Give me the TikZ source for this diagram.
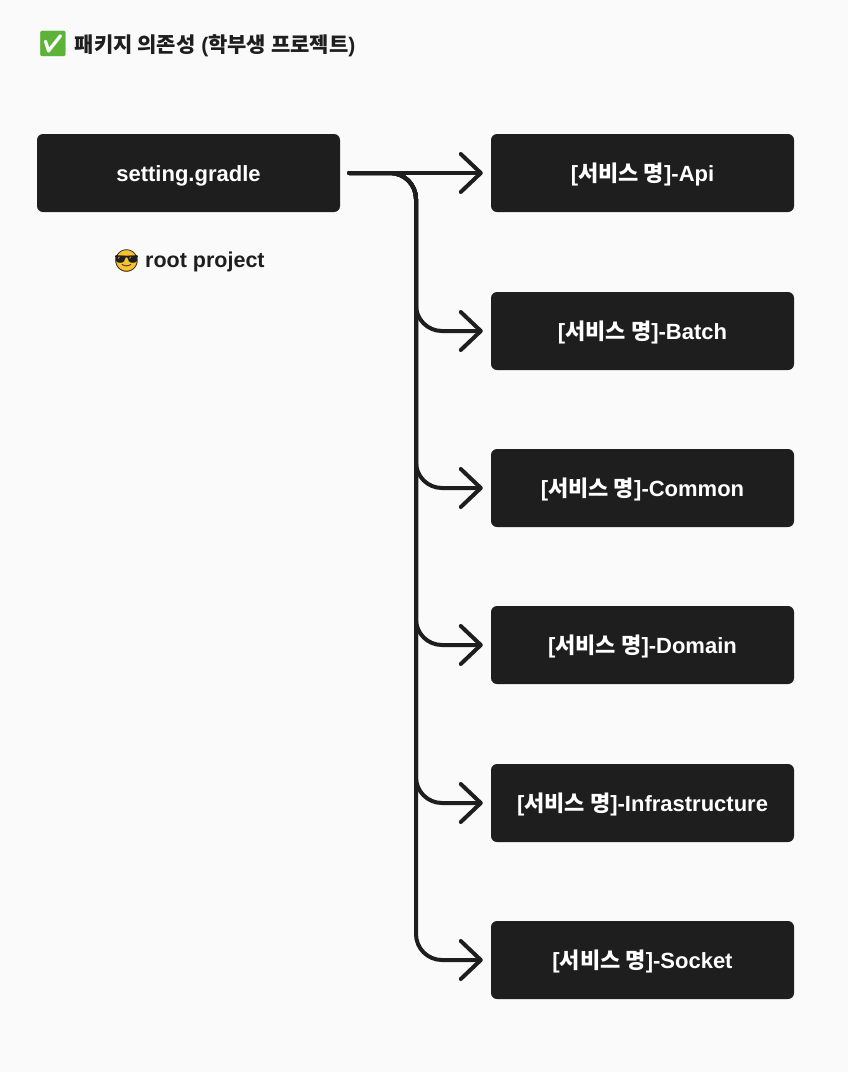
\documentclass[tikz,border=0pt]{standalone}
\usepackage{fontspec}
\setmainfont{Liberation Sans}
\newfontfamily\kr{Noto Sans CJK KR}
\newfontfamily\emoji{Noto Emoji}
\usetikzlibrary{arrows.meta}
\definecolor{ink}{HTML}{1E1E1E}
\definecolor{paper}{HTML}{FAFAFA}
\definecolor{okgreen}{HTML}{5DB337}
\definecolor{smiley}{HTML}{F7C130}
\newcommand\svc[1]{[{\kr 서비스 명}]-#1}
\begin{document}
\begin{tikzpicture}[x=1pt,y=-1pt,
    module/.style={fill=ink,rounded corners=6pt,minimum width=303pt,minimum height=78pt,text height=20pt,text depth=4pt,text=white,font=\fontsize{22}{24}\selectfont\bfseries},
    conn/.style={draw=ink,line width=4pt,line cap=round,rounded corners=26pt,shorten <=9pt,shorten >=8pt,-{Straight Barb[length=20pt,width=38pt,line cap=round,line join=round]}},
    headline/.style={text=ink,font=\fontsize{21.5}{24}\selectfont\bfseries,anchor=west,inner sep=0pt},
    face/.style={inner sep=0pt,text=ink,font=\fontsize{22}{22}\selectfont}]
				\fill[paper] (0,0) rectangle (848,1072);
				\node[headline,font=\fontsize{21}{24}\selectfont\bfseries] (title) at (37,44) {{\emoji\fontsize{25}{25}\selectfont\color{okgreen}✅} {\kr 패키지 의존성} ({\kr 학부생 프로젝트})};
				\node[module] (gradle) at (188.5,173) {setting.gradle};
				\fill[smiley] (126.5,261) circle (11pt);
				\node[face] (shades) at (126.5,261) {\emoji 😎};
				\node[headline] (root) at (145,261.5) {root project};
				\node[module] (api) at (642.5,173) {\svc{Api}};
				\node[module] (batch) at (642.5,331) {\svc{Batch}};
				\node[module] (common) at (642.5,488) {\svc{Common}};
				\node[module] (domain) at (642.5,645) {\svc{Domain}};
				\node[module] (infra) at (642.5,803) {\svc{Infrastructure}};
				\node[module] (socket) at (642.5,960) {\svc{Socket}};
				\coordinate (trunk) at (416,173);
				\draw[conn] (gradle.east)--(api.west);
				\foreach \m in {batch,common,domain,infra,socket}
					\draw[conn] (gradle.east) -| (trunk |- \m.west) -- (\m.west);
\end{tikzpicture}
\end{document}
